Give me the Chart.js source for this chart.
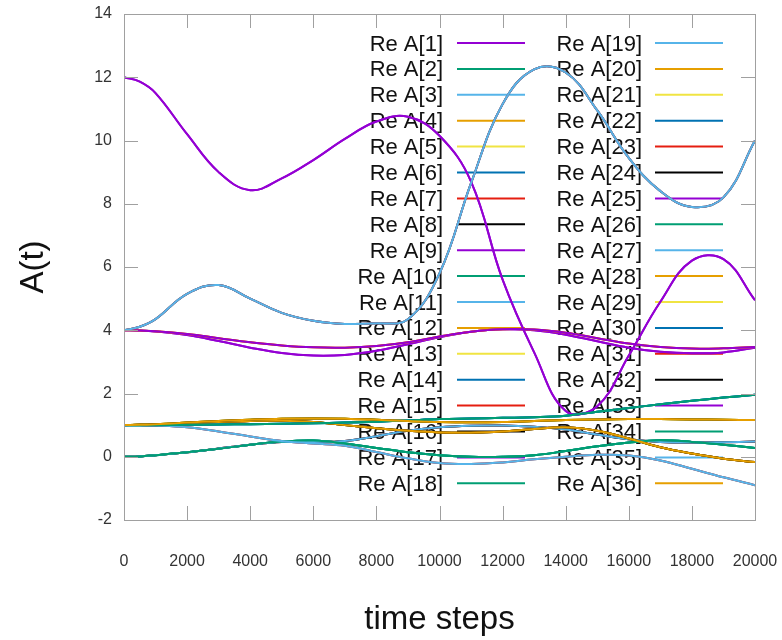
<!DOCTYPE html>
<html>
<head>
<meta charset="utf-8">
<script src="https://cdn.jsdelivr.net/npm/chart.js@4.4.0/dist/chart.umd.min.js"></script>
<style>
  body { margin: 0; background: #fff; }
  canvas { display: block; }
</style>
</head>
<body>
<canvas id="chart" width="782" height="640"></canvas>
<script>
  // time axis (extra sample at 500 where the curves bend early)
  const steps = [0, 500, 1000, 2000, 3000, 4000, 5000, 6000, 7000, 8000, 9000, 10000,
    11000, 12000, 13000, 14000, 15000, 16000, 17000, 18000, 19000, 20000];
  const xTicks = [0, 2000, 4000, 6000, 8000, 10000, 12000, 14000, 16000, 18000, 20000];
  const yTicks = [-2, 0, 2, 4, 6, 8, 10, 12, 14];

  // the distinct curves
  const peak12 = [12.0, 11.86, 11.5, 10.2, 9.0, 8.43, 8.8, 9.38, 10.05, 10.6, 10.75, 10.15,
    8.7, 5.6, 3.3, 1.45, 1.6, 3.2, 4.9, 6.2, 6.25, 4.95];
  const wave4 = [4.0, 4.11, 4.35, 5.15, 5.43, 5.0, 4.55, 4.3, 4.2, 4.22, 4.35, 5.8,
    8.65, 11.15, 12.25, 12.15, 10.95, 9.45, 8.4, 7.9, 8.2, 10.0];
  const flat4Up = [4.0, 3.99, 3.97, 3.88, 3.75, 3.62, 3.52, 3.46, 3.45, 3.5, 3.62, 3.8,
    3.95, 4.03, 4.02, 3.92, 3.75, 3.58, 3.47, 3.42, 3.43, 3.47];
  const flat4Low = [4.0, 3.99, 3.96, 3.85, 3.66, 3.45, 3.28, 3.2, 3.22, 3.35, 3.56, 3.78,
    3.95, 4.03, 4.0, 3.86, 3.65, 3.45, 3.32, 3.27, 3.3, 3.45];
  const one1Up = [1.0, 1.01, 1.03, 1.08, 1.13, 1.17, 1.2, 1.21, 1.2, 1.17, 1.13, 1.1,
    1.09, 1.1, 1.13, 1.16, 1.18, 1.19, 1.19, 1.18, 1.17, 1.16];
  const one1Down = [1.0, 1.01, 1.02, 1.06, 1.1, 1.13, 1.14, 1.1, 1.0, 0.9, 0.82, 0.77,
    0.76, 0.8, 0.88, 0.93, 0.82, 0.58, 0.3, 0.1, -0.06, -0.17];
  const one1Rise = [1.0, 1.0, 1.0, 1.01, 1.02, 1.03, 1.04, 1.06, 1.08, 1.11, 1.15, 1.19,
    1.21, 1.23, 1.25, 1.3, 1.42, 1.54, 1.66, 1.77, 1.87, 1.96];
  const one1Fall = [1.0, 1.0, 0.99, 0.93, 0.8, 0.64, 0.5, 0.42, 0.35, 0.15, -0.05, -0.2,
    -0.23, -0.18, -0.08, 0.0, 0.06, 0.04, -0.12, -0.38, -0.65, -0.9];
  const zeroLow = [0.0, 0.01, 0.05, 0.14, 0.25, 0.38, 0.48, 0.51, 0.42, 0.28, 0.14, 0.05,
    0.0, 0.0, 0.05, 0.18, 0.33, 0.45, 0.52, 0.47, 0.38, 0.28];
  const zeroHigh = [0.0, 0.01, 0.05, 0.14, 0.26, 0.38, 0.47, 0.47, 0.5, 0.65, 0.82, 0.93,
    0.98, 0.99, 0.95, 0.86, 0.7, 0.55, 0.47, 0.45, 0.46, 0.48];

  // which curve each Re A[n] follows (hidden ones lie under later plots)
  const seriesCurves = [
    peak12, one1Rise, one1Fall, one1Up, one1Up, zeroLow, zeroHigh, one1Down, flat4Low,
    zeroLow, wave4, one1Down, one1Up, one1Rise, one1Fall, zeroHigh, flat4Low, zeroLow,
    zeroHigh, one1Down, flat4Up, wave4, flat4Up, one1Down, flat4Up, zeroLow, one1Fall,
    one1Down, one1Up, one1Rise, wave4, one1Up, peak12, one1Rise, wave4, one1Up
  ];

  // gnuplot default line colours
  const lineColors = ["#9400d3", "#009e73", "#56b4e9", "#e69f00",
    "#f0e442", "#0072b2", "#e51e10", "#000000"];

  const datasets = seriesCurves.map((curve, i) => ({
    label: "Re A[" + (i + 1) + "]",
    data: steps.map((t, k) => ({ x: t, y: curve[k] })),
    borderColor: lineColors[i % 8],
    borderWidth: 2,
    pointRadius: 0,
    tension: 0.4,
    fill: false,
    order: -i, // later plots on top, like gnuplot
  }));

  // key drawn gnuplot style: text right-aligned then sample line
  const gnuplotKey = {
    id: "gnuplotKey",
    beforeDatasetsDraw(chart) {
      const ctx = chart.ctx;
      const a = chart.chartArea;
      const rowH = 25.9;
      const cols = [
        { textRight: a.left + 319, x0: a.left + 333, x1: a.left + 401 },
        { textRight: a.left + 518, x0: a.left + 531, x1: a.left + 599 },
      ];
      ctx.save();
      ctx.font = "22px 'Liberation Sans', Arial, sans-serif";
      ctx.textAlign = "right";
      ctx.textBaseline = "middle";
      chart.data.datasets.forEach((ds, i) => {
        const col = cols[Math.floor(i / 18)];
        const y = a.top + 29 + (i % 18) * rowH;
        ctx.fillStyle = "#111";
        ctx.fillText(ds.label, col.textRight, y + 1.5);
        ctx.strokeStyle = ds.borderColor;
        ctx.lineWidth = 2;
        ctx.beginPath();
        ctx.moveTo(col.x0, y);
        ctx.lineTo(col.x1, y);
        ctx.stroke();
      });
      ctx.restore();
    },
  };

  // border with inward ticks on all four sides
  const frame = {
    id: "frame",
    afterDatasetsDraw(chart) {
      const ctx = chart.ctx;
      const a = chart.chartArea;
      const xs = chart.scales.x;
      const ys = chart.scales.y;
      const len = 14;
      ctx.save();
      ctx.strokeStyle = "#a0a0a0";
      ctx.lineWidth = 1;
      ctx.beginPath();
      xTicks.forEach((t) => {
        const px = Math.round(xs.getPixelForValue(t)) + 0.5;
        ctx.moveTo(px, a.bottom);
        ctx.lineTo(px, a.bottom - len);
        ctx.moveTo(px, a.top);
        ctx.lineTo(px, a.top + len);
      });
      yTicks.forEach((v) => {
        const py = Math.round(ys.getPixelForValue(v)) + 0.5;
        ctx.moveTo(a.left, py);
        ctx.lineTo(a.left + len, py);
        ctx.moveTo(a.right, py);
        ctx.lineTo(a.right - len, py);
      });
      ctx.stroke();
      ctx.strokeRect(a.left + 0.5, a.top + 0.5, a.right - a.left, a.bottom - a.top);
      ctx.restore();
    },
  };

  new Chart(document.getElementById("chart").getContext("2d"), {
    type: "line",
    data: { datasets: datasets },
    options: {
      responsive: false,
      animation: false,
      devicePixelRatio: 1,
      layout: { padding: { top: 14, right: 27, left: 0, bottom: 0 } },
      plugins: {
        legend: { display: false },
        tooltip: { enabled: false },
      },
      scales: {
        x: {
          type: "linear",
          min: 0,
          max: 20000,
          afterFit: (s) => {
            s.height = 120;
            s.paddingLeft = 0;
            s.paddingRight = 0;
          },
          afterBuildTicks: (s) => { s.ticks = xTicks.map((v) => ({ value: v })); },
          grid: { display: false, drawTicks: false },
          border: { display: false },
          ticks: {
            autoSkip: false,
            maxRotation: 0,
            padding: 32,
            color: "#333",
            callback: (v) => String(v),
            font: { family: "'Liberation Sans', Arial, sans-serif", size: 16 },
          },
          title: {
            display: true,
            text: "time steps",
            color: "#111",
            padding: { top: 0, bottom: 0 },
            font: { family: "'Liberation Sans', Arial, sans-serif", size: 33 },
          },
        },
        y: {
          type: "linear",
          min: -2,
          max: 14,
          afterFit: (s) => {
            s.width = 124;
            s.paddingTop = 0;
            s.paddingBottom = 0;
          },
          afterBuildTicks: (s) => { s.ticks = yTicks.map((v) => ({ value: v })); },
          grid: { display: false, drawTicks: false },
          border: { display: false },
          ticks: {
            padding: 12,
            color: "#333",
            callback: (v) => String(v),
            font: { family: "'Liberation Sans', Arial, sans-serif", size: 16 },
          },
          title: {
            display: true,
            text: "A(t)",
            color: "#111",
            padding: { top: 14, bottom: 0 },
            font: { family: "'Liberation Sans', Arial, sans-serif", size: 33 },
          },
        },
      },
    },
    plugins: [gnuplotKey, frame],
  });
</script>
</body>
</html>
